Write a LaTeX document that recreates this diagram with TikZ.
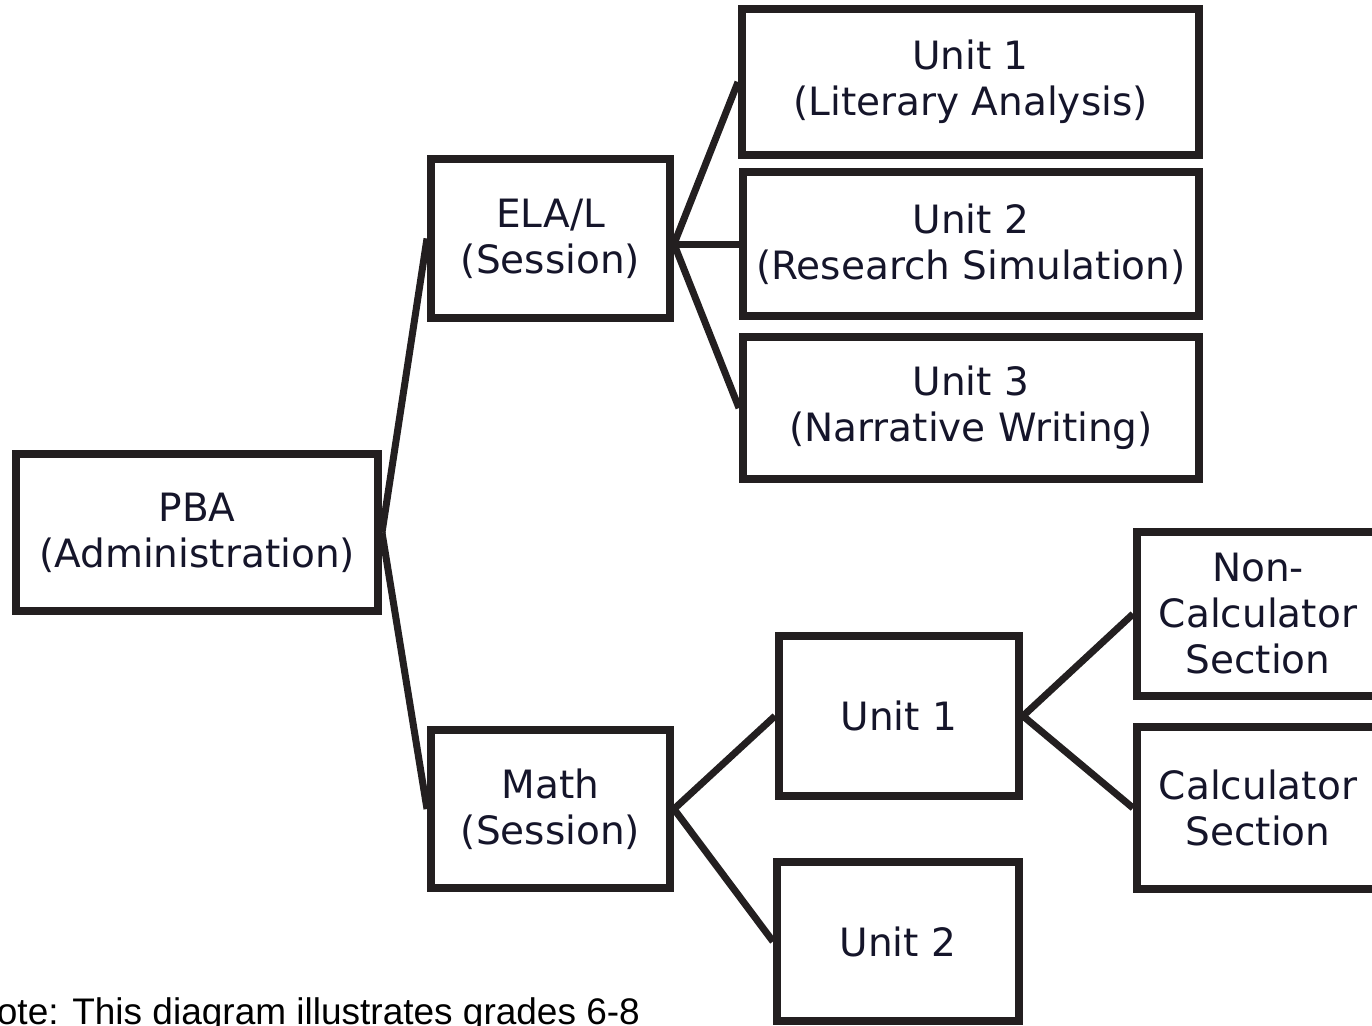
\documentclass[tikz,border=0pt]{standalone}
\usepackage{fontspec}
\setmainfont{DejaVu Sans}
\newfontfamily\notefont{Liberation Sans}
\definecolor{inkline}{HTML}{231F20}
\definecolor{inktext}{HTML}{15152A}
\begin{document}
\begin{tikzpicture}[x=1pt,y=-1pt,
  box/.style={draw=inkline, line width=8pt, inner sep=0pt, align=center,
    text=inktext, font=\fontsize{39}{46}\selectfont},
  link/.style={draw=inkline, line width=7pt}]
\useasboundingbox (0,0) rectangle (1372,1025);
\clip (0,0) rectangle (1372,1025);
\node[box, minimum width=362pt, minimum height=157pt] (pba) at (197,532.5) {PBA\\(Administration)};
\node[box, minimum width=239pt, minimum height=159pt] (ela) at (550.5,238.5) {ELA/L\\(Session)};
\node[box, minimum width=239pt, minimum height=158pt] (math) at (550.5,809) {Math\\(Session)};
\node[box, minimum width=457pt, minimum height=146pt] (eu1) at (970.5,82) {Unit 1\\(Literary Analysis)};
\node[box, minimum width=456pt, minimum height=144pt] (eu2) at (971,244) {Unit 2\\(Research Simulation)};
\node[box, minimum width=456pt, minimum height=142pt] (eu3) at (971,408) {Unit 3\\(Narrative Writing)};
\node[box, minimum width=240pt, minimum height=160pt] (mu1) at (899,716) {Unit 1};
\node[box, minimum width=242pt, minimum height=159pt] (mu2) at (898,941.5) {Unit 2};
\node[box, minimum width=242pt, minimum height=164pt] (nc) at (1258,614) {Non-\\Calculator\\Section};
\node[box, minimum width=242pt, minimum height=162pt] (calc) at (1258,808) {Calculator\\Section};
\coordinate (ej) at (ela.east |- eu2.west);
\draw[link] (pba.east) -- (ela.west);
\draw[link] (pba.east) -- (math.west);
\draw[link] (ej) -- (eu1.west);
\draw[link] (ej) -- (eu2.west);
\draw[link] (ej) -- (eu3.west);
\draw[link] (math.east) -- (mu1.west);
\draw[link] (math.east) -- (mu2.west);
\draw[link] (mu1.east) -- (nc.west);
\draw[link] (mu1.east) -- (calc.west);
\node[anchor=base west, inner sep=0pt, text=black, font=\notefont\fontsize{37}{44}\selectfont] (note) at (-30,1024) {Note: This diagram illustrates grades 6-8};
\end{tikzpicture}
\end{document}
